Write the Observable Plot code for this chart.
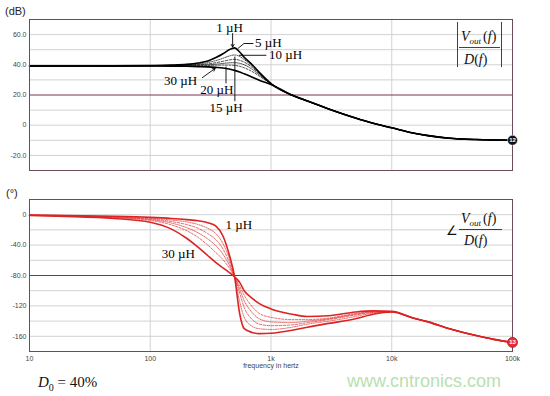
<!DOCTYPE html>
<html><head><meta charset="utf-8">
<script src="https://cdn.jsdelivr.net/npm/d3@7"></script>
<script src="https://cdn.jsdelivr.net/npm/@observablehq/plot@0.6"></script>
<style>
body{margin:0;background:#fff;}
#wrap{position:relative;width:550px;height:396px;overflow:hidden;font-family:"Liberation Sans",Arial,sans-serif;background:#fff;}
#magbox{position:absolute;left:0;top:0;}
#phbox{position:absolute;left:0;top:180px;}
.unit{position:absolute;font-size:11px;color:#222;line-height:12px;}
#d0{position:absolute;left:38px;top:374px;font-family:"Liberation Serif",serif;font-size:15px;line-height:16px;color:#111;}
#wm{position:absolute;left:347px;top:372px;font-size:18px;line-height:18px;color:#b9e0ae;}
</style></head><body>
<div id="wrap">
  <div class="unit" style="left:5px;top:5px;">(dB)</div>
  <div class="unit" style="left:6px;top:187px;">(°)</div>
  <div id="magbox"></div>
  <div id="phbox"></div>
  <div id="d0"><i>D</i><sub style="font-size:10px;">0</sub> = 40%</div>
  <div id="wm">www.cntronics.com</div>
</div>
<script>
const freqHz=[10,20,50,100,150,200,250,300,350,400,450,500,550,600,700,800,1000,1500,2000,3000,5000,7000,10000,15000,20000,30000,50000,70000,100000];
const inductances=["1 µH","5 µH","10 µH","15 µH","20 µH","30 µH"];
const xTickValues=[10,100,1000,10000,100000];
const xTickLabels=["10","100","1k","10k","100k"];
const magTicks=[60,40,20,0,-20];
const phaseTicks=[0,-40,-80,-120,-160];

const magDb_1uH =[39.2,39.2,39.3,39.5,39.8,40.3,41.2,42.5,44.8,47.3,50.0,51.2,48.5,45.0,40.0,35.0,27.6,19.8,16.0,10.8,4.8,1.3,-1.7,-5.2,-6.9,-8.6,-9.5,-9.8,-10.0];
const magDb_5uH =[39.2,39.2,39.3,39.4,39.7,40.0,40.6,41.5,42.8,44.3,45.8,46.5,45.5,43.5,39.0,34.5,27.6,19.8,16.0,10.8,4.8,1.3,-1.7,-5.2,-6.9,-8.6,-9.5,-9.8,-10.0];
const magDb_10uH=[39.2,39.2,39.3,39.4,39.6,39.8,40.1,40.6,41.4,42.3,43.2,43.6,43.0,41.8,38.2,34.0,27.6,19.8,16.0,10.8,4.8,1.3,-1.7,-5.2,-6.9,-8.6,-9.5,-9.8,-10.0];
const magDb_15uH=[39.2,39.2,39.2,39.3,39.5,39.6,39.8,40.0,40.4,40.9,41.3,41.4,41.0,40.0,37.0,33.3,27.5,19.8,16.0,10.8,4.8,1.3,-1.7,-5.2,-6.9,-8.6,-9.5,-9.8,-10.0];
const magDb_20uH=[39.2,39.2,39.2,39.3,39.4,39.4,39.5,39.6,39.7,39.8,39.8,39.6,39.0,38.0,35.5,32.5,27.4,19.8,16.0,10.8,4.8,1.3,-1.7,-5.2,-6.9,-8.6,-9.5,-9.8,-10.0];
const magDb_30uH=[39.2,39.2,39.2,39.2,39.1,39.0,38.8,38.6,38.3,37.9,37.2,36.3,35.2,34.0,31.8,29.8,27.0,19.8,16.0,10.8,4.8,1.3,-1.7,-5.2,-6.9,-8.6,-9.5,-9.8,-10.0];

const phaseDeg_1uH =[-0.5,-1,-2,-3.5,-5,-6.5,-8,-10.5,-15,-28,-52,-82,-130,-150,-155,-156.5,-156,-152,-148,-143,-137,-131,-128,-136,-141,-150,-159,-164,-168];
const phaseDeg_5uH =[-0.6,-1.2,-2.5,-4.5,-7,-9.5,-13,-18,-25,-38,-57,-82,-114,-135,-147,-150,-151,-148,-144,-140,-134,-129.5,-128,-136,-141,-150,-159,-164,-168];
const phaseDeg_10uH=[-0.7,-1.4,-3,-5.5,-9,-13,-18,-25,-33,-45,-62,-82,-103,-122,-138,-144,-146,-145,-142,-138,-132,-128.5,-127.5,-136,-141,-150,-159,-164,-168];
const phaseDeg_15uH=[-0.8,-1.6,-3.5,-6.5,-11,-17,-24,-32,-41,-52,-66,-82,-98,-113,-129,-137,-141,-142,-140,-137,-131,-128,-127.5,-136,-141,-150,-159,-164,-168];
const phaseDeg_20uH=[-0.9,-1.8,-4,-7.5,-13.5,-21,-30,-40,-50,-59,-70,-82,-94,-106,-121,-130,-135,-138,-138,-136,-130,-127.5,-127.5,-136,-141,-150,-159,-164,-168];
const phaseDeg_30uH=[-1,-2.2,-5,-10,-19,-31,-43,-54,-63,-70,-76,-82,-89,-100,-110,-117,-124,-131,-134,-133,-128,-126.5,-127,-136,-141,-150,-159,-164,-168];

const magSeries=[magDb_1uH,magDb_5uH,magDb_10uH,magDb_15uH,magDb_20uH,magDb_30uH];
const phaseSeries=[phaseDeg_1uH,phaseDeg_5uH,phaseDeg_10uH,phaseDeg_15uH,phaseDeg_20uH,phaseDeg_30uH];
const rows=inductances.flatMap((L,i)=>freqHz.map((f,j)=>({L,f,mag:magSeries[i][j],phase:phaseSeries[i][j]})));

const styles=[{sw:1.6,dash:null},{sw:0.7,dash:"1.2,1.2"},{sw:0.7,dash:"2.5,1.5"},{sw:0.7,dash:"1,1"},{sw:0.7,dash:"2,1.5"},{sw:1.6,dash:null}];
const frameColor="#6d4a5c", gridColor="#d2d2d2", accentGrid="#7a3550", red="#dc2424";
const serif="'Liberation Serif','Times New Roman',serif";
const fmtMag=d=>d===0?"0":d.toFixed(1);
const fmtPh=d=>d===0?"0":(Math.abs(d)<100?d.toFixed(1):String(d));
const tickLab=d=>xTickLabels[xTickValues.indexOf(d)];
const baseStyle={fontFamily:"'Liberation Sans',Arial,sans-serif",fontSize:"7px",color:"#444",background:"transparent",overflow:"visible"};

// ---------- magnitude ----------
const magPlot=Plot.plot({
  width:550,height:180,marginLeft:29,marginRight:38,marginTop:19,marginBottom:10,
  style:baseStyle,
  x:{type:"log",domain:[10,100000],axis:null},
  y:{domain:[-30,70],ticks:magTicks,tickFormat:fmtMag,tickSize:0,tickPadding:3,label:null},
  marks:[
    Plot.ruleY([-20,-10,0,10,30,40,50,60],{stroke:gridColor,strokeWidth:1}),
    Plot.ruleX([100,1000,10000],{stroke:gridColor,strokeWidth:1}),
    Plot.ruleY([20],{stroke:accentGrid,strokeWidth:1}),
    ...inductances.map((L,i)=>Plot.line(rows.filter(r=>r.L===L),{x:"f",y:"mag",stroke:"#000",strokeWidth:styles[i].sw,strokeDasharray:styles[i].dash,curve:"monotone-x"})),
    Plot.frame({stroke:frameColor,strokeWidth:1}),
    Plot.dot(rows.filter(r=>r.L==="1 µH"&&r.f===100000),{x:"f",y:"mag",r:5,fill:"#111",stroke:"#fff",strokeWidth:0.5}),
    Plot.text(rows.filter(r=>r.L==="1 µH"&&r.f===100000),{x:"f",y:"mag",text:()=>"12",fill:"#fff",fontSize:6,fontWeight:"bold"}),
    Plot.text([0],{x:()=>453,y:()=>64.6,text:()=>"1 µH",fontFamily:serif,fontSize:13,fill:"#000"}),
    Plot.arrow([0],{x1:()=>481,y1:()=>60.7,x2:()=>481,y2:()=>51.8,stroke:"#000",strokeWidth:0.9,headLength:5}),
    Plot.line([[532,50.8],[597,54.1],[709,54.1]],{stroke:"#000",strokeWidth:0.9}),
    Plot.text([0],{x:()=>736,y:()=>54.3,text:()=>"5 µH",textAnchor:"start",fontFamily:serif,fontSize:13,fill:"#000"}),
    Plot.line([[545,46.3],[909,46.3]],{stroke:"#000",strokeWidth:0.9}),
    Plot.text([0],{x:()=>962,y:()=>46.3,text:()=>"10 µH",textAnchor:"start",fontFamily:serif,fontSize:13,fill:"#000"}),
    Plot.arrow([0],{x1:()=>270,y1:()=>31.5,x2:()=>345,y2:()=>37.6,stroke:"#000",strokeWidth:0.9,headLength:5}),
    Plot.text([0],{x:()=>245,y:()=>29.3,text:()=>"30 µH",textAnchor:"end",fontFamily:serif,fontSize:13,fill:"#000"}),
    Plot.line([[424,38.6],[424,28.0]],{stroke:"#000",strokeWidth:0.9}),
    Plot.text([0],{x:()=>356,y:()=>23.4,text:()=>"20 µH",fontFamily:serif,fontSize:13,fill:"#000"}),
    Plot.line([[502,45.2],[502,16.2]],{stroke:"#000",strokeWidth:0.9}),
    Plot.text([0],{x:()=>424,y:()=>11.6,text:()=>"15 µH",fontFamily:serif,fontSize:13,fill:"#000"})
  ]
});
document.getElementById("magbox").appendChild(magPlot);

// ---------- phase ----------
const phPlot=Plot.plot({
  width:550,height:196,marginLeft:29,marginRight:38,marginTop:19,marginBottom:25,
  style:baseStyle,
  x:{type:"log",domain:[10,100000],ticks:xTickValues,tickFormat:tickLab,tickSize:0,tickPadding:5,label:null},
  y:{domain:[-180,20],ticks:phaseTicks,tickFormat:fmtPh,tickSize:0,tickPadding:3,label:null},
  marks:[
    Plot.ruleY([-160,-140,-120,-100,-60,-40,-20,0],{stroke:gridColor,strokeWidth:1}),
    Plot.ruleX([100,1000,10000],{stroke:gridColor,strokeWidth:1}),
    Plot.ruleY([-80],{stroke:accentGrid,strokeWidth:1}),
    ...inductances.map((L,i)=>Plot.line(rows.filter(r=>r.L===L),{x:"f",y:"phase",stroke:red,strokeWidth:styles[i].sw,strokeDasharray:styles[i].dash,curve:"monotone-x"})),
    Plot.frame({stroke:frameColor,strokeWidth:1}),
    Plot.dot(rows.filter(r=>r.L==="1 µH"&&r.f===100000),{x:"f",y:"phase",r:5,fill:"#e83030",stroke:"#b01818",strokeWidth:0.8}),
    Plot.text(rows.filter(r=>r.L==="1 µH"&&r.f===100000),{x:"f",y:"phase",text:()=>"13",fill:"#fff",fontSize:6,fontWeight:"bold"}),
    Plot.text([0],{frameAnchor:"bottom",dy:16,text:()=>"frequency in hertz",fontSize:7,fill:"#444"}),
    Plot.text([0],{x:()=>542,y:()=>-13.4,text:()=>"1 µH",fontFamily:serif,fontSize:13,fill:"#000"}),
    Plot.text([0],{x:()=>171,y:()=>-51.2,text:()=>"30 µH",fontFamily:serif,fontSize:13,fill:"#000"})
  ]
});
document.getElementById("phbox").appendChild(phPlot);

// ---------- transfer-function labels ----------
function fraction(svg,x,yNum,yBar,yDen,x1,x2){
  const g=d3.select(svg).append("g").attr("font-family",serif).attr("font-size",14).attr("fill","#111").attr("text-anchor","start");
  const n=g.append("text").attr("x",x).attr("y",yNum).attr("text-anchor","start");
  n.append("tspan").attr("font-style","italic").text("V");
  n.append("tspan").attr("font-style","italic").attr("font-size",9).attr("dy",3).text("out");
  n.append("tspan").attr("dy",-3).attr("dx",2).text("(");
  n.append("tspan").attr("font-style","italic").text("f");
  n.append("tspan").text(")");
  g.append("line").attr("x1",x1).attr("x2",x2).attr("y1",yBar).attr("y2",yBar).attr("stroke","#111").attr("stroke-width",0.8);
  const d=g.append("text").attr("x",x+3).attr("y",yDen).attr("text-anchor","start");
  d.append("tspan").attr("font-style","italic").text("D");
  d.append("tspan").text("(");
  d.append("tspan").attr("font-style","italic").text("f");
  d.append("tspan").text(")");
  return g;
}
const gt=fraction(magPlot,461,41,47.5,64,459,500);
gt.append("line").attr("x1",457.5).attr("x2",457.5).attr("y1",22).attr("y2",67).attr("stroke","#111").attr("stroke-width",0.8);
gt.append("line").attr("x1",501.5).attr("x2",501.5).attr("y1",22).attr("y2",67).attr("stroke","#111").attr("stroke-width",0.8);
const gb=fraction(phPlot,461,43,49.5,65,459,502);
gb.append("text").attr("x",446).attr("y",55).attr("font-size",13).attr("text-anchor","start").text("∠");
</script>
</body></html>
